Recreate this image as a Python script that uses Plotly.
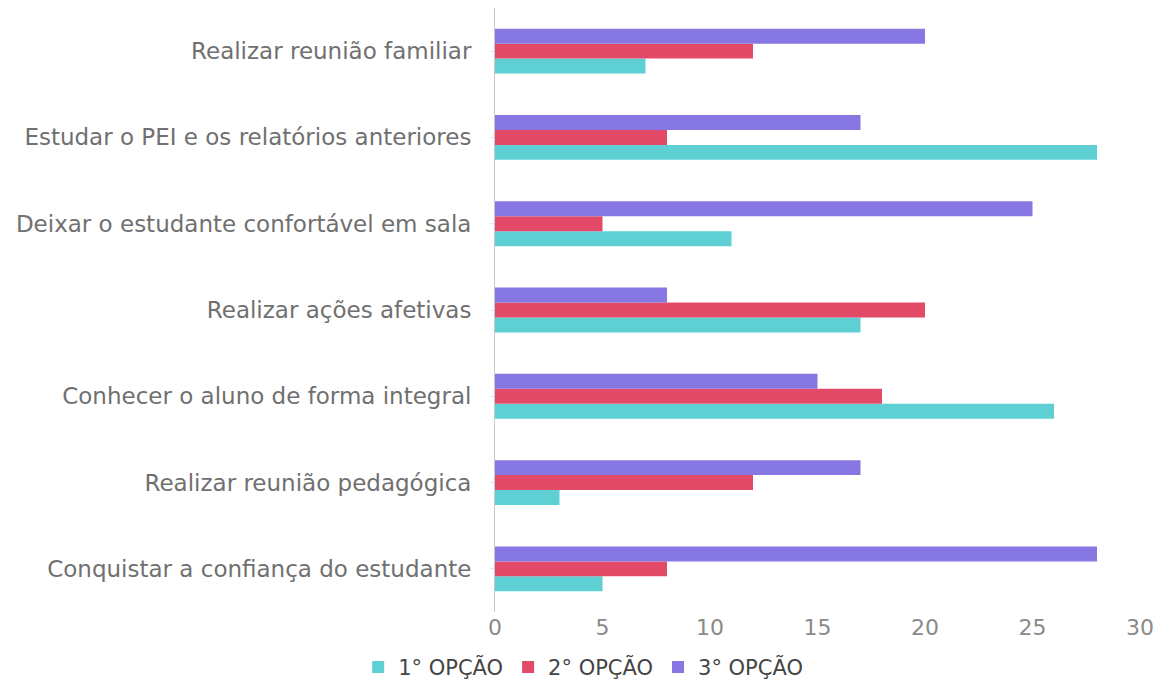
import plotly.graph_objects as go

categories = [
    "Conquistar a confiança do estudante",
    "Realizar reunião pedagógica",
    "Conhecer o aluno de forma integral",
    "Realizar ações afetivas",
    "Deixar o estudante confortável em sala",
    "Estudar o PEI e os relatórios anteriores",
    "Realizar reunião familiar",
]
opcao1 = [5, 3, 26, 17, 11, 28, 7]
opcao2 = [8, 12, 18, 20, 5, 8, 12]
opcao3 = [28, 17, 15, 8, 25, 17, 20]
series_names = ["1° OPÇÃO", "2° OPÇÃO", "3° OPÇÃO"]
colors = ["#5ECFD3", "#E34A68", "#8677E2"]
x_ticks = [0, 5, 10, 15, 20, 25, 30]

fig = go.Figure()
for name, vals, col in zip(series_names, [opcao1, opcao2, opcao3], colors):
    fig.add_trace(go.Bar(y=categories, x=vals, name=name, orientation="h",
                         marker=dict(color=col, line=dict(width=0))))

# page body has an 8px default margin, so the figure is sized to fit the window
fig.update_layout(
    width=1162, height=686,
    barmode="group", bargap=0.48, bargroupgap=0,
    plot_bgcolor="white", paper_bgcolor="white",
    margin=dict(l=487, r=30, t=0, b=82),
    font=dict(family="DejaVu Sans, sans-serif", color="#666666"),
    xaxis=dict(range=[0, 30], tickvals=x_ticks, showgrid=False, zeroline=False,
               showline=False, automargin=False,
               tickfont=dict(size=22, color="#8a8a8a"), ticks=""),
    yaxis=dict(showgrid=False, showline=True, linecolor="#c8c8c8", linewidth=1,
               ticks="outside", ticklen=4, tickcolor="#e6e6e6", automargin=False,
               ticklabelstandoff=14,
               tickfont=dict(size=23, color="#707070")),
    legend=dict(orientation="h", xref="container", x=0.495, xanchor="center",
                yref="container", y=0.039, yanchor="middle",
                font=dict(size=21, color="#444444"), itemwidth=30),
)

fig.write_html("out.html")
